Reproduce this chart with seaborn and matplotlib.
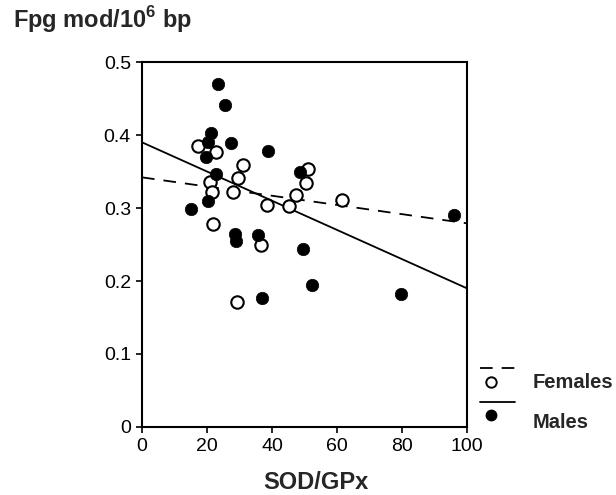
import matplotlib
matplotlib.use("Agg")
import matplotlib.pyplot as plt
import seaborn as sns
import pandas as pd
from matplotlib.lines import Line2D

# Data
male_x = [23.5, 25.6, 21.3, 20.4, 27.5, 19.7, 38.9, 22.8, 48.5, 15.1, 20.4,
          28.7, 29.0, 35.8, 49.4, 37.0, 52.2, 96.0, 79.6]
male_y = [0.470, 0.441, 0.403, 0.390, 0.389, 0.370, 0.378, 0.347, 0.349, 0.299,
          0.310, 0.264, 0.255, 0.263, 0.244, 0.177, 0.195, 0.290, 0.182]
female_x = [17.3, 22.8, 31.2, 29.6, 21.0, 21.6, 28.1, 38.6, 45.1, 47.5, 50.6,
            51.2, 61.7, 21.9, 36.7, 29.3]
female_y = [0.385, 0.377, 0.359, 0.341, 0.336, 0.322, 0.322, 0.304, 0.303,
            0.318, 0.334, 0.353, 0.311, 0.278, 0.249, 0.171]
fit_x = [0, 100]
female_fit = [0.342, 0.279]
male_fit = [0.390, 0.190]
x_ticks = [0, 20, 40, 60, 80, 100]
y_ticks = [0, 0.1, 0.2, 0.3, 0.4, 0.5]
y_ticklabels = ["0", "0.1", "0.2", "0.3", "0.4", "0.5"]

sns.set_style("ticks")
plt.rcParams['font.family'] = ['Liberation Sans', 'DejaVu Sans']
plt.rcParams['mathtext.fontset'] = 'custom'
plt.rcParams['mathtext.rm'] = 'Liberation Sans'
plt.rcParams['mathtext.bf'] = 'Liberation Sans:bold'

fig = plt.figure(figsize=(6.16, 4.95), dpi=100)
ax = fig.add_axes([0.2305, 0.1374, 0.5275, 0.7373])

males = pd.DataFrame({"x": male_x, "y": male_y})
females = pd.DataFrame({"x": female_x, "y": female_y})
fl = pd.DataFrame({"x": fit_x, "y": female_fit})
ml = pd.DataFrame({"x": fit_x, "y": male_fit})

sns.lineplot(data=fl, x="x", y="y", ax=ax, color="black", lw=1.3,
             linestyle=(0, (7, 5)))
sns.lineplot(data=ml, x="x", y="y", ax=ax, color="black", lw=1.3)
sns.scatterplot(data=females, x="x", y="y", ax=ax, s=80, facecolor="white",
                edgecolor="black", linewidth=1.5, zorder=3)
sns.scatterplot(data=males, x="x", y="y", ax=ax, s=80, color="black",
                edgecolor="black", linewidth=0.5, zorder=4)

ax.set_xlim(0, 100)
ax.set_ylim(0, 0.5)
ax.set_xticks(x_ticks)
ax.set_yticks(y_ticks)
ax.set_yticklabels(y_ticklabels)
ax.set_xlabel("")
ax.set_ylabel("")
for sp in ax.spines.values():
    sp.set_visible(True)
    sp.set_linewidth(1.5)
    sp.set_color("black")
ax.tick_params(axis="both", labelsize=14, length=4, width=1.2, colors="black")
ax.tick_params(axis="y", pad=4)
ax.tick_params(axis="x", pad=4)


def fx(px):
    return px / 616


def fy(py):
    return 1 - py / 495


fig.text(fx(13), fy(28), r"Fpg mod/10$^{\mathbf{6}}$ bp", fontsize=17,
         fontweight="bold", ha="left", va="baseline")
fig.text(fx(316), fy(489), "SOD/GPx", fontsize=17, fontweight="bold",
         ha="center", va="baseline")

# custom legend outside axes
fig.add_artist(Line2D([fx(480), fx(515)], [fy(368), fy(368)], color="black",
                      lw=1.3, linestyle=(0, (7, 5)), transform=fig.transFigure))
fig.add_artist(Line2D([fx(491)], [fy(382)], marker="o", markersize=7.5,
                      markerfacecolor="white", markeredgecolor="black",
                      markeredgewidth=1.4, transform=fig.transFigure))
fig.add_artist(Line2D([fx(480), fx(515)], [fy(402), fy(402)], color="black",
                      lw=1.3, transform=fig.transFigure))
fig.add_artist(Line2D([fx(491)], [fy(415)], marker="o", markersize=7.5,
                      markerfacecolor="black", markeredgecolor="black",
                      transform=fig.transFigure))
fig.text(fx(533), fy(388), "Females", fontsize=14.5, fontweight="bold",
         ha="left", va="baseline")
fig.text(fx(533), fy(428), "Males", fontsize=14.5, fontweight="bold",
         ha="left", va="baseline")

fig.savefig("out.png", dpi=100)
